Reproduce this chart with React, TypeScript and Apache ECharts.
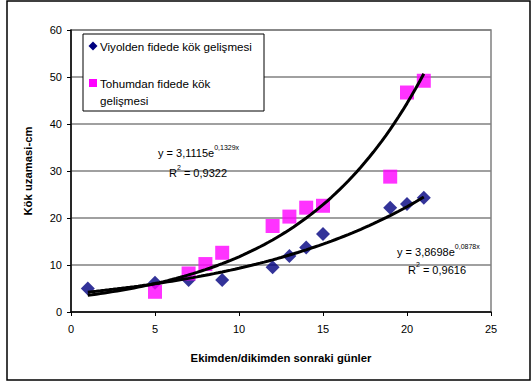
import React, { useEffect, useRef } from "react";
import * as echarts from "echarts";

const viyoldenDays = [1, 5, 7, 9, 12, 13, 14, 15, 19, 20, 21];
const viyoldenValues = [5.0, 6.2, 6.8, 6.8, 9.5, 11.9, 13.7, 16.6, 22.2, 23.0, 24.3];
const tohumDays = [5, 7, 8, 9, 12, 13, 14, 15, 19, 20, 21];
const tohumValues = [4.3, 8.2, 10.2, 12.6, 18.3, 20.3, 22.2, 22.6, 28.8, 46.7, 49.2];

// trendline equations shown in the chart
const tohumFitA = 3.1115;
const tohumFitB = 0.1329;
const viyoldenFitA = 3.8698;
const viyoldenFitB = 0.0878;
const fitStart = 1;
const fitEnd = 21;

const legendNames = ["Viyolden fidede kök gelişmesi", "Tohumdan fidede kök", "gelişmesi"];
const xTitle = "Ekimden/dikimden sonraki günler";
const yTitle = "Kök uzamasi-cm";

function trend(a: number, b: number): number[][] {
  const pts: number[][] = [];
  for (let i = 0; i <= 80; i++) {
    const x = fitStart + ((fitEnd - fitStart) * i) / 80;
    pts.push([x, a * Math.exp(b * x)]);
  }
  return pts;
}

const FONT = "'Liberation Sans', Arial, sans-serif";

export default function App() {
  const ref = useRef<HTMLDivElement>(null);
  useEffect(() => {
    if (!ref.current) return;
    const chart = echarts.init(ref.current, null, { renderer: "svg" });
    const rich = {
      n: { fontSize: 11, fontFamily: FONT, color: "#000", lineHeight: 14, verticalAlign: "bottom" },
      s: { fontSize: 7, fontFamily: FONT, color: "#000", lineHeight: 14, verticalAlign: "top" },
    };
    chart.setOption({
      animation: false,
      textStyle: { fontFamily: FONT },
      grid: { left: 71, top: 30, right: 41, bottom: 70, show: true, borderColor: "#808080", borderWidth: 1.5, backgroundColor: "#fff" },
      xAxis: {
        type: "value",
        min: 0,
        max: 25,
        interval: 5,
        name: xTitle,
        nameLocation: "middle",
        nameGap: 40,
        nameTextStyle: { fontSize: 11.3, fontWeight: "bold", color: "#000", fontFamily: FONT },
        axisLine: { show: true, lineStyle: { color: "#000", width: 1.5 } },
        axisTick: { show: true, inside: false, length: 4, lineStyle: { color: "#000" } },
        axisLabel: { fontSize: 11, color: "#000", margin: 11, fontFamily: FONT },
        splitLine: { show: false },
      },
      yAxis: {
        type: "value",
        min: 0,
        max: 60,
        interval: 10,
        name: yTitle,
        nameLocation: "middle",
        nameGap: 38,
        nameTextStyle: { fontSize: 11.3, fontWeight: "bold", color: "#000", fontFamily: FONT },
        axisLine: { show: true, lineStyle: { color: "#000", width: 1.5 } },
        axisTick: { show: true, inside: false, length: 4, lineStyle: { color: "#000" } },
        axisLabel: { fontSize: 11, color: "#000", margin: 9, fontFamily: FONT },
        splitLine: { show: true, lineStyle: { color: "#808080", width: 1.5 } },
      },
      series: [
        {
          name: legendNames[0],
          type: "scatter",
          symbol: "diamond",
          symbolSize: 14,
          itemStyle: { color: "#000080" },
          data: viyoldenDays.map((d, i) => [d, viyoldenValues[i]]),
          z: 2,
        },
        {
          name: legendNames[1] + " " + legendNames[2],
          type: "scatter",
          symbol: "rect",
          symbolSize: 14,
          itemStyle: { color: "#FF00FF" },
          data: tohumDays.map((d, i) => [d, tohumValues[i]]),
          z: 2,
        },
        {
          type: "line",
          showSymbol: false,
          symbol: "none",
          lineStyle: { color: "#000", width: 3 },
          data: trend(tohumFitA, tohumFitB),
          z: 3,
        },
        {
          type: "line",
          showSymbol: false,
          symbol: "none",
          lineStyle: { color: "#000", width: 3 },
          data: trend(viyoldenFitA, viyoldenFitB),
          z: 3,
        },
      ],
      graphic: [
        { type: "rect", shape: { x: 7, y: 1, width: 523, height: 379 }, style: { fill: "none", stroke: "#000", lineWidth: 1.5 }, z: 0 },
        { type: "rect", shape: { x: 83, y: 34, width: 181, height: 77 }, style: { fill: "#fff", stroke: "#000", lineWidth: 1 }, z: 10 },
        { type: "polygon", shape: { points: [[93, 41.5], [97.5, 46], [93, 50.5], [88.5, 46]] }, style: { fill: "#000080" }, z: 11 },
        { type: "text", x: 100, y: 46, style: { text: legendNames[0], fontSize: 11.6, fontFamily: FONT, fill: "#000", verticalAlign: "middle" }, z: 11 },
        { type: "rect", shape: { x: 89, y: 79, width: 8, height: 8 }, style: { fill: "#FF00FF" }, z: 11 },
        { type: "text", x: 100, y: 83, style: { text: legendNames[1], fontSize: 11.6, fontFamily: FONT, fill: "#000", verticalAlign: "middle" }, z: 11 },
        { type: "text", x: 100, y: 100, style: { text: legendNames[2], fontSize: 11.6, fontFamily: FONT, fill: "#000", verticalAlign: "middle" }, z: 11 },
        {
          type: "text", x: 158, y: 144, z: 11,
          style: { text: "{n|y = 3,1115e}{s|0,1329x}", rich, fill: "#000" },
        },
        {
          type: "text", x: 169, y: 164, z: 11,
          style: { text: "{n|R}{s|2}{n| = 0,9322}", rich, fill: "#000" },
        },
        {
          type: "text", x: 397, y: 243, z: 11,
          style: { text: "{n|y = 3,8698e}{s|0,0878x}", rich, fill: "#000" },
        },
        {
          type: "text", x: 408, y: 261, z: 11,
          style: { text: "{n|R}{s|2}{n| = 0,9616}", rich, fill: "#000" },
        },
      ],
    });
    return () => chart.dispose();
  }, []);
  return <div ref={ref} style={{ position: "absolute", left: 0, top: 0, width: 532, height: 382, background: "#fff" }} />;
}
